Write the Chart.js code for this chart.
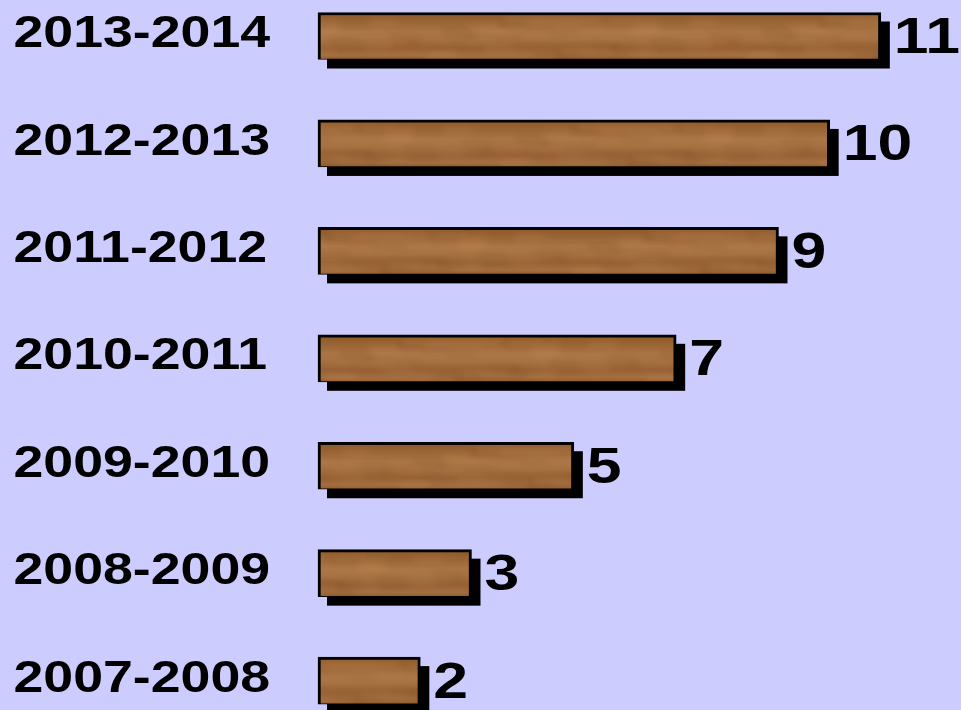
<!DOCTYPE html>
<html>
<head>
<meta charset="utf-8">
<script src="https://cdn.jsdelivr.net/npm/chart.js@4.4.1/dist/chart.umd.min.js"></script>
<style>
  html, body { margin: 0; padding: 0; background: #ccccff; }
  #wrap { width: 961px; height: 710px; }
</style>
</head>
<body>
<div id="wrap"><canvas id="seasonChart"></canvas></div>
<script>
// Data
const seasons = ['2013-2014', '2012-2013', '2011-2012', '2010-2011', '2009-2010', '2008-2009', '2007-2008'];
const counts = [11, 10, 9, 7, 5, 3, 2];
const axisMax = 12;

// the original text is wide, so glyphs get stretched sideways
const labelStretch = 1.22;
const valueStretch = 1.25;

// Wood texture for the bars
const woodCanvas = document.createElement('canvas');
woodCanvas.width = 320;
woodCanvas.height = 48;

function paintWood() {
  const g = woodCanvas.getContext('2d');
  const grad = g.createLinearGradient(0, 0, 0, 48);
  grad.addColorStop(0, '#8d592b');
  grad.addColorStop(0.18, '#9c6636');
  grad.addColorStop(0.4, '#ad7847');
  grad.addColorStop(0.58, '#a87343');
  grad.addColorStop(0.75, '#9a6436');
  grad.addColorStop(0.9, '#a56f40');
  grad.addColorStop(1, '#8f5b2d');
  g.fillStyle = grad;
  g.fillRect(0, 0, 320, 48);

  g.filter = 'blur(3px)';
  for (let k = 0; k < 26; k++) {
    const x = (k * 97) % 320;
    const y = 5 + (k * 13.7) % 38;
    const w = 50 + (k * 37) % 110;
    const h = 3 + (k % 3) * 2;
    g.globalAlpha = 0.3;
    g.fillStyle = k % 2 ? '#c08b59' : '#7e4d22';
    g.fillRect(x, y, w, h);
    g.fillRect(x - 320, y, w, h);
  }
  g.filter = 'none';
  g.globalAlpha = 1;
}
paintWood();

function woodFill(context) {
  const chart = context.chart;
  const yScale = chart.scales.y;
  if (!yScale || context.dataIndex === undefined) return '#a06a38';
  const top = yScale.getPixelForValue(context.dataIndex) - 24;
  const pattern = chart.ctx.createPattern(woodCanvas, 'repeat');
  pattern.setTransform(new DOMMatrix().translate(context.dataIndex * 73, top));
  return pattern;
}

// Plugins
// stretch the axis labels while the scales are drawn
const wideLabels = {
  id: 'wideLabels',
  beforeDraw(chart) {
    chart.ctx.save();
    chart.ctx.transform(labelStretch, 0, 0, 1, 0, 0);
  },
  beforeDatasetsDraw(chart) {
    chart.ctx.restore();
  }
};

const barShadow = {
  id: 'barShadow',
  beforeDatasetsDraw(chart) {
    const ctx = chart.ctx;
    const meta = chart.getDatasetMeta(0);
    ctx.save();
    ctx.fillStyle = '#000000';
    meta.data.forEach(bar => {
      const { x, y, base, height } = bar.getProps(['x', 'y', 'base', 'height'], true);
      ctx.fillRect(base + 9, y - height / 2 + 9, x - base, height);
    });
    ctx.restore();
  }
};

const valueLabels = {
  id: 'valueLabels',
  afterDatasetsDraw(chart) {
    const ctx = chart.ctx;
    const meta = chart.getDatasetMeta(0);
    ctx.font = 'bold 50px "Liberation Sans", Arial, sans-serif';
    ctx.fillStyle = '#000000';
    ctx.textAlign = 'left';
    ctx.textBaseline = 'alphabetic';
    meta.data.forEach((bar, i) => {
      ctx.save();
      ctx.translate(bar.x + 13, bar.y + 17);
      ctx.scale(valueStretch, 1);
      ctx.fillText(String(counts[i]), 0, 0);
      ctx.restore();
    });
  }
};

const ctx = document.getElementById('seasonChart').getContext('2d');

new Chart(ctx, {
  type: 'bar',
  data: {
    labels: seasons,
    datasets: [{
      data: counts,
      backgroundColor: woodFill,
      borderColor: '#000000',
      borderWidth: { top: 3, left: 3, right: 3, bottom: 1 },
      borderSkipped: false,
      barThickness: 47,
      clip: false
    }]
  },
  options: {
    indexAxis: 'y',
    responsive: true,
    maintainAspectRatio: false,
    animation: false,
    layout: {
      padding: { left: 11, right: 29, top: 36, bottom: 28 }
    },
    plugins: {
      legend: { display: false },
      tooltip: { enabled: false }
    },
    scales: {
      x: {
        display: false,
        min: 0,
        max: axisMax
      },
      y: {
        offset: false,
        grid: { display: false },
        border: { display: false },
        afterFit: scale => { scale.width = 307; },
        ticks: {
          autoSkip: false,
          crossAlign: 'far',
          labelOffset: -1,
          color: '#000000',
          font: { family: '"Liberation Sans", Arial, sans-serif', size: 44, weight: 'bold' }
        }
      }
    }
  },
  plugins: [wideLabels, barShadow, valueLabels]
});
</script>
</body>
</html>
